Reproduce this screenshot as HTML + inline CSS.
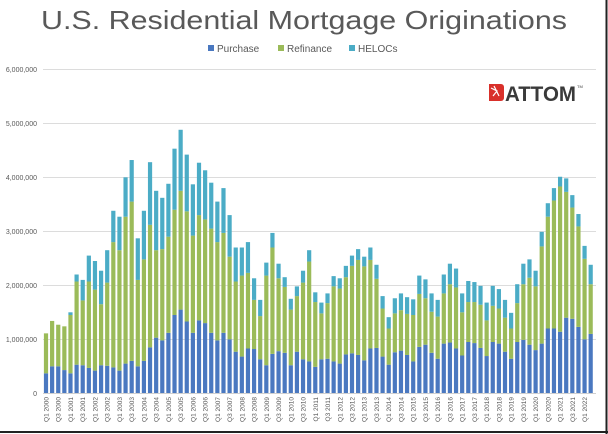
<!DOCTYPE html>
<html><head><meta charset="utf-8"><style>
html,body{margin:0;padding:0;background:#fff;width:608px;height:434px;overflow:hidden}
svg{display:block;font-family:"Liberation Sans",sans-serif}
</style></head><body>
<svg id="c" width="608" height="434" viewBox="0 0 608 434">
<rect x="0" y="0" width="608" height="434" fill="#fff"/>
<text x="304" y="29" text-anchor="middle" font-size="26" fill="#595959" textLength="526" lengthAdjust="spacingAndGlyphs">U.S. Residential Mortgage Originations</text>
<rect x="208" y="45" width="6" height="6" fill="#4a78c0"/>
<text x="217" y="52" font-size="10" fill="#595959">Purchase</text>
<rect x="278" y="45" width="6" height="6" fill="#9bbb59"/>
<text x="287" y="52" font-size="10" fill="#595959">Refinance</text>
<rect x="349" y="45" width="6" height="6" fill="#4bacc6"/>
<text x="358" y="52" font-size="10" fill="#595959">HELOCs</text>
<g stroke="#dcdcdc" stroke-width="1">
<line x1="43" y1="69.5" x2="596" y2="69.5"/>
<line x1="43" y1="123.5" x2="596" y2="123.5"/>
<line x1="43" y1="177.5" x2="596" y2="177.5"/>
<line x1="43" y1="231.5" x2="596" y2="231.5"/>
<line x1="43" y1="285.5" x2="596" y2="285.5"/>
<line x1="43" y1="339.5" x2="596" y2="339.5"/>
</g>
<g font-size="7" fill="#595959" text-anchor="end">
<text x="37" y="72">6,000,000</text>
<text x="37" y="126">5,000,000</text>
<text x="37" y="180">4,000,000</text>
<text x="37" y="234">3,000,000</text>
<text x="37" y="288">2,000,000</text>
<text x="37" y="342">1,000,000</text>
<text x="37" y="396">0</text>
</g>
<g id="bars"></g>
<line x1="43" y1="393.5" x2="596" y2="393.5" stroke="#d0d0d0"/>
<g font-size="6.5" fill="#595959" text-anchor="end">
<text transform="translate(48.5,397) rotate(-90)">Q1 2000</text>
<text transform="translate(60.7,397) rotate(-90)">Q3 2000</text>
<text transform="translate(73.0,397) rotate(-90)">Q1 2001</text>
<text transform="translate(85.2,397) rotate(-90)">Q3 2001</text>
<text transform="translate(97.5,397) rotate(-90)">Q1 2002</text>
<text transform="translate(109.7,397) rotate(-90)">Q3 2002</text>
<text transform="translate(121.9,397) rotate(-90)">Q1 2003</text>
<text transform="translate(134.2,397) rotate(-90)">Q3 2003</text>
<text transform="translate(146.4,397) rotate(-90)">Q1 2004</text>
<text transform="translate(158.7,397) rotate(-90)">Q3 2004</text>
<text transform="translate(170.9,397) rotate(-90)">Q1 2005</text>
<text transform="translate(183.1,397) rotate(-90)">Q3 2005</text>
<text transform="translate(195.4,397) rotate(-90)">Q1 2006</text>
<text transform="translate(207.6,397) rotate(-90)">Q3 2006</text>
<text transform="translate(219.9,397) rotate(-90)">Q1 2007</text>
<text transform="translate(232.1,397) rotate(-90)">Q3 2007</text>
<text transform="translate(244.3,397) rotate(-90)">Q1 2008</text>
<text transform="translate(256.6,397) rotate(-90)">Q3 2008</text>
<text transform="translate(268.8,397) rotate(-90)">Q1 2009</text>
<text transform="translate(281.1,397) rotate(-90)">Q3 2009</text>
<text transform="translate(293.3,397) rotate(-90)">Q1 2010</text>
<text transform="translate(305.5,397) rotate(-90)">Q3 2010</text>
<text transform="translate(317.8,397) rotate(-90)">Q1 2011</text>
<text transform="translate(330.0,397) rotate(-90)">Q3 2011</text>
<text transform="translate(342.3,397) rotate(-90)">Q1 2012</text>
<text transform="translate(354.5,397) rotate(-90)">Q3 2012</text>
<text transform="translate(366.7,397) rotate(-90)">Q1 2013</text>
<text transform="translate(379.0,397) rotate(-90)">Q3 2013</text>
<text transform="translate(391.2,397) rotate(-90)">Q1 2014</text>
<text transform="translate(403.5,397) rotate(-90)">Q3 2014</text>
<text transform="translate(415.7,397) rotate(-90)">Q1 2015</text>
<text transform="translate(427.9,397) rotate(-90)">Q3 2015</text>
<text transform="translate(440.2,397) rotate(-90)">Q1 2016</text>
<text transform="translate(452.4,397) rotate(-90)">Q3 2016</text>
<text transform="translate(464.7,397) rotate(-90)">Q1 2017</text>
<text transform="translate(476.9,397) rotate(-90)">Q3 2017</text>
<text transform="translate(489.1,397) rotate(-90)">Q1 2018</text>
<text transform="translate(501.4,397) rotate(-90)">Q3 2018</text>
<text transform="translate(513.6,397) rotate(-90)">Q1 2019</text>
<text transform="translate(525.9,397) rotate(-90)">Q3 2019</text>
<text transform="translate(538.1,397) rotate(-90)">Q1 2020</text>
<text transform="translate(550.3,397) rotate(-90)">Q3 2020</text>
<text transform="translate(562.6,397) rotate(-90)">Q1 2021</text>
<text transform="translate(574.8,397) rotate(-90)">Q3 2021</text>
<text transform="translate(587.1,397) rotate(-90)">Q1 2022</text>
</g>
<g>
<path d="M489 84 h12 a3 3 0 0 1 3 3 v11 a3 3 0 0 1 -3 3 h-12 z" fill="#d9302a"/>
<path d="M491 88 l6 3 l-4 5 M494 86 l5 10" stroke="#fff" stroke-width="1.2" fill="none"/>
<text x="505" y="101" font-size="21" font-weight="bold" fill="#3a3a3a" textLength="71" lengthAdjust="spacingAndGlyphs">ATTOM</text>
<text x="577" y="88" font-size="4" fill="#3a3a3a">TM</text>
</g>
<line x1="0" y1="432" x2="608" y2="432" stroke="#222" stroke-width="2"/>
<line x1="606.5" y1="0" x2="606.5" y2="434" stroke="#222" stroke-width="2"/>
</svg>
<script>
var d=[[.37,1.11,1.11],[.5,1.34,1.34],[.5,1.27,1.27],[.43,1.24,1.24],[.37,1.45,1.5],[.53,2.07,2.2],[.52,1.72,2.1],[.47,2.07,2.55],[.42,1.92,2.45],[.52,1.65,2.27],[.51,2.05,2.65],[.48,2.8,3.38],[.42,2.65,3.27],[.55,3.27,4.0],[.6,3.55,4.32],[.5,2.1,2.87],[.6,2.48,3.38],[.85,3.12,4.28],[1.03,2.65,3.75],[.98,2.67,3.62],[1.12,2.9,3.88],[1.45,3.4,4.53],[1.55,3.75,4.88],[1.33,3.37,4.42],[1.12,2.92,3.87],[1.35,3.3,4.27],[1.3,3.22,4.13],[1.12,3.05,3.9],[.98,2.8,3.55],[1.12,2.97,3.8],[1.0,2.53,3.3],[.77,2.07,2.7],[.68,2.18,2.7],[.83,2.23,2.8],[.82,1.73,2.13],[.63,1.43,1.73],[.52,2.18,2.42],[.73,2.7,2.97],[.78,2.13,2.4],[.75,1.97,2.15],[.52,1.55,1.75],[.77,1.8,1.98],[.63,2.05,2.27],[.59,2.44,2.65],[.49,1.69,1.87],[.63,1.48,1.68],[.64,1.67,1.85],[.59,1.98,2.17],[.55,1.94,2.13],[.72,2.15,2.36],[.74,2.36,2.55],[.71,2.47,2.67],[.61,2.35,2.53],[.83,2.47,2.7],[.84,2.12,2.38],[.68,1.57,1.8],[.53,1.2,1.41],[.76,1.48,1.76],[.79,1.54,1.85],[.71,1.47,1.78],[.59,1.45,1.74],[.86,1.84,2.18],[.9,1.76,2.11],[.75,1.51,1.85],[.64,1.42,1.73],[.92,1.85,2.2],[.94,2.02,2.4],[.83,1.96,2.31],[.7,1.5,1.85],[.95,1.69,2.08],[.93,1.69,2.06],[.84,1.64,1.99],[.69,1.35,1.68],[.95,1.62,1.99],[.92,1.57,1.93],[.77,1.4,1.73],[.64,1.2,1.49],[.95,1.67,2.02],[.99,2.02,2.4],[.9,2.14,2.48],[.8,1.98,2.27],[.92,2.72,2.99],[1.2,3.27,3.52],[1.2,3.57,3.8],[1.14,3.83,4.01],[1.4,3.73,3.98],[1.38,3.44,3.67],[1.23,3.09,3.32],[1.0,2.49,2.73],[1.1,2.02,2.38]];
var g=document.getElementById('bars'),ns='http://www.w3.org/2000/svg',Z=393.3,S=54;
function r(x,a,b,c){var e=document.createElementNS(ns,'rect');e.setAttribute('x',x);e.setAttribute('y',Z-b*S);e.setAttribute('width',4.2);e.setAttribute('height',Math.max(0,(b-a)*S));e.setAttribute('fill',c);g.appendChild(e);}
d.forEach(function(v,i){var x=46+i*6.12-2.1;r(x,0,v[0],'#4a78c0');r(x,v[0],v[1],'#9bbb59');r(x,v[1],v[2],'#4bacc6');});
</script>
</body></html>
